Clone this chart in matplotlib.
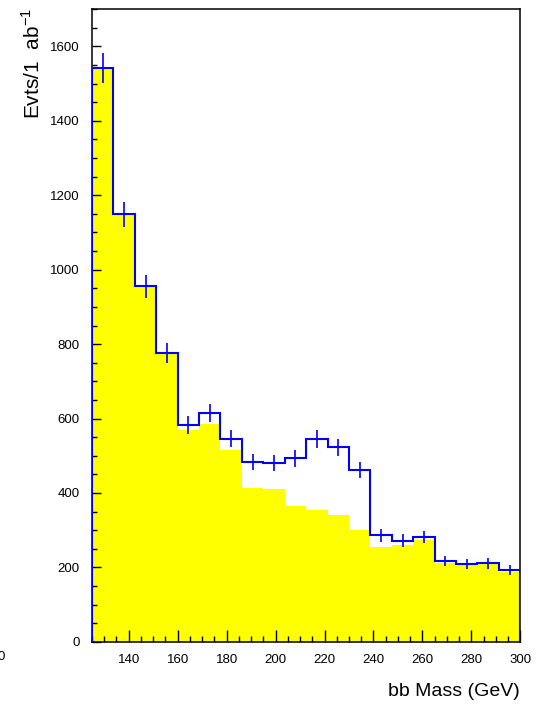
import matplotlib
matplotlib.use("Agg")

import matplotlib.pyplot as plt
import numpy as np
from matplotlib.ticker import MultipleLocator

plt.rcParams["font.family"] = ["Liberation Sans", "DejaVu Sans"]

# Binning: 20 bins between 125 and 300 GeV
bin_edges = np.linspace(125, 300, 21)

# Background only (yellow)
background = [1539, 1147, 954, 775, 570, 584, 516, 413, 410, 365,
              353, 340, 299, 255, 260, 273, 212, 206, 208, 188]

# Signal + background (blue, with errors)
total = [1542, 1149, 956, 776, 583, 615, 546, 483, 481, 493,
         545, 523, 461, 286, 272, 282, 217, 209, 211, 193]

fig = plt.figure(figsize=(5.4, 7.08), dpi=100)
ax = fig.add_axes([0.1704, 0.0936, 0.7931, 0.8933])

ax.stairs(background, bin_edges, fill=True, color="#ffff00", baseline=0, zorder=1)
ax.stairs(total, bin_edges, color="#0000ff", linewidth=1.5, baseline=0, zorder=3)

centers = 0.5 * (bin_edges[:-1] + bin_edges[1:])
errors = np.sqrt(np.array(total))
ax.errorbar(centers, total, yerr=errors, fmt="none", ecolor="#0000ff",
            elinewidth=1.2, capsize=0, zorder=4)

ax.set_xlim(125, 300)
ax.set_ylim(0, 1700)

ax.xaxis.set_major_locator(MultipleLocator(20))
ax.xaxis.set_minor_locator(MultipleLocator(5))
ax.yaxis.set_major_locator(MultipleLocator(200))
ax.yaxis.set_minor_locator(MultipleLocator(50))

ax.tick_params(axis="both", which="both", direction="in", top=False, right=False,
               labelsize=9.5, width=1.0)
ax.tick_params(axis="x", which="major", length=8.5, pad=9)
ax.tick_params(axis="x", which="minor", length=4.3)
ax.tick_params(axis="y", which="major", length=6.5, pad=9)
ax.tick_params(axis="y", which="minor", length=3.5)

for s in ax.spines.values():
    s.set_linewidth(1.1)
ax.set_axisbelow(False)

# Axis titles, ROOT style (right / top aligned)
fig.text(520 / 540, 1 - 692 / 708, "bb Mass (GeV)", ha="right", va="center", fontsize=14)
fig.text(32 / 540, 1 - 8 / 708, r"Evts/1  ab$^{\mathregular{-1}}$", ha="center", va="top",
         rotation=90, fontsize=15)

# stray label fragment at the left edge
fig.text(5 / 540, 1 - 657 / 708, "0", ha="right", va="center", fontsize=9.5)

fig.savefig("out.png", dpi=100)
